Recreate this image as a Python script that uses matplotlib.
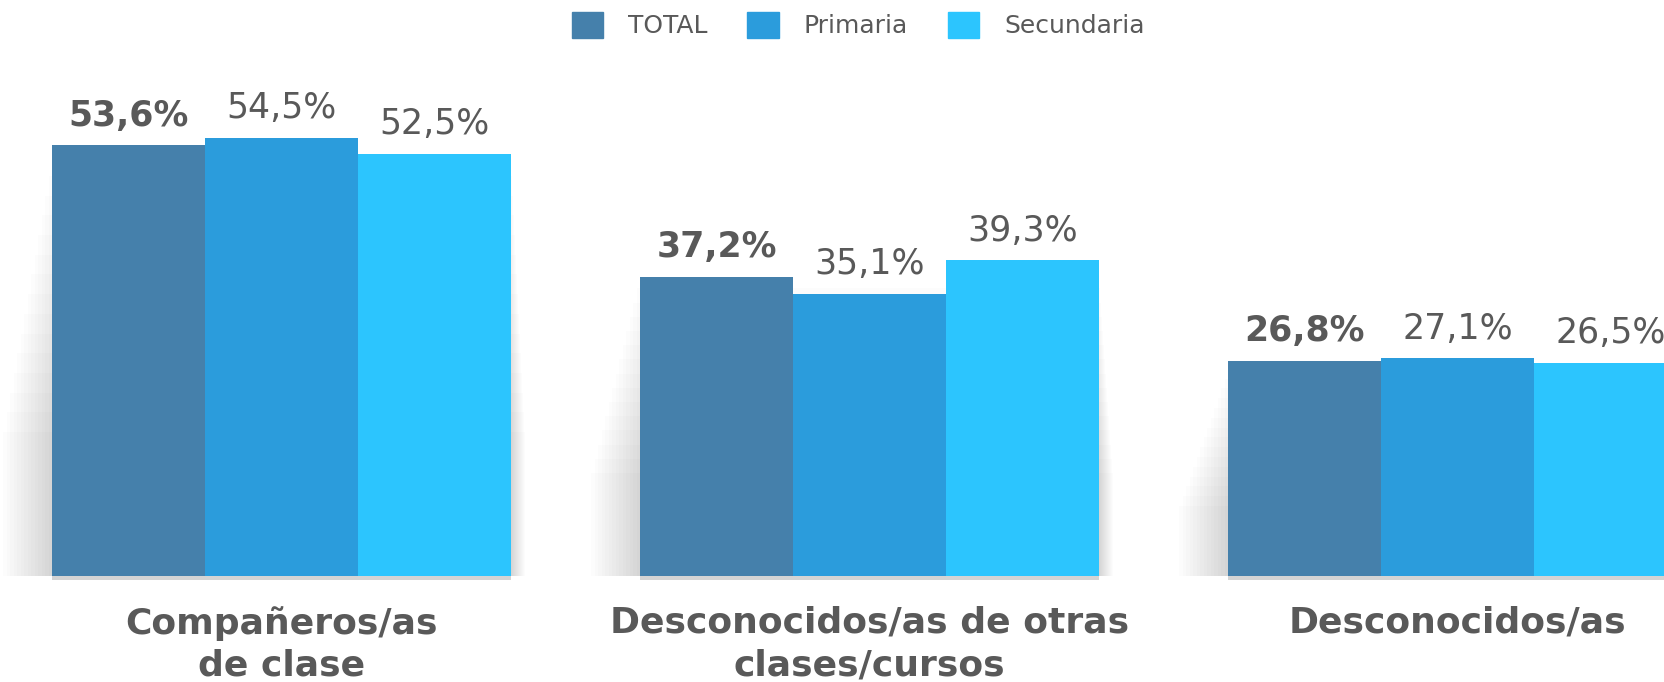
import matplotlib.pyplot as plt
from matplotlib.patches import Rectangle, Patch

categorias = ['Compañeros/as\nde clase', 'Desconocidos/as de otras\nclases/cursos', 'Desconocidos/as']
series = ['TOTAL', 'Primaria', 'Secundaria']
total = [53.6, 37.2, 26.8]
primaria = [54.5, 35.1, 27.1]
secundaria = [52.5, 39.3, 26.5]
etiquetas = {
    'TOTAL': ['53,6%', '37,2%', '26,8%'],
    'Primaria': ['54,5%', '35,1%', '27,1%'],
    'Secundaria': ['52,5%', '39,3%', '26,5%'],
}

colores = ['#4580AB', '#2B9CDC', '#2CC5FE']
gris = '#595959'


def main():
    plt.rcParams['font.family'] = ['DejaVu Sans']
    fig = plt.figure(figsize=(16.64, 6.82), dpi=100)
    # baseline at 106 px from bottom, 8.04 px per %, 588 px per group
    ax = fig.add_axes([0, 106 / 682, 1, 576 / 682])
    px_x = 588.0
    px_y = 8.04
    ax.set_xlim(-281.5 / px_x, (1664 - 281.5) / px_x)
    ax.set_ylim(0, 576 / px_y)
    ax.axis('off')

    w = 152.7 / px_x
    x = list(range(len(categorias)))
    valores = [total, primaria, secundaria]

    # sombra suave detras de cada grupo (se desvanece hacia arriba y a los lados)
    for i in x:
        izq = i - 1.5 * w
        der = i + 1.5 * w
        alto = max(v[i] for v in valores)
        for k in range(14):
            d = (k + 1) * 3.5 / px_x
            top = alto * (0.92 - 0.045 * k)
            ax.add_patch(Rectangle((izq - d, -3 / px_y), (der - izq) + d * 1.3, top,
                                   color='#000000', alpha=0.011, lw=0, zorder=1))
        ax.add_patch(Rectangle((izq, -4 / px_y), der - izq, 4 / px_y,
                               color='#d4d4d4', lw=0, zorder=1, clip_on=False))

    for j, (nombre, vals) in enumerate(zip(series, valores)):
        pos = [xi + (j - 1) * w for xi in x]
        ax.bar(pos, vals, width=w, color=colores[j], zorder=3, label=nombre)
        for p, v, t in zip(pos, vals, etiquetas[nombre]):
            ax.annotate(t, (p, v), xytext=(0, 14), textcoords='offset points',
                        ha='center', va='baseline', fontsize=25, color=gris,
                        fontweight='bold' if j == 0 else 'normal', zorder=4,
                        annotation_clip=False)

    for xi, c in zip(x, categorias):
        ax.text(xi, -30 / px_y, c, ha='center', va='top', fontsize=26,
                fontweight='bold', color=gris, linespacing=1.3)

    handles = [Patch(color=c) for c in colores]
    fig.legend(handles, series, loc='center', bbox_to_anchor=(858 / 1664, 1 - 25 / 682),
               ncol=3, frameon=False, fontsize=18, labelcolor=gris,
               handlelength=1.25, handleheight=1.25, handletextpad=1.0, columnspacing=1.6)

    fig.savefig('out.png', dpi=100)


if __name__ == '__main__':
    main()
